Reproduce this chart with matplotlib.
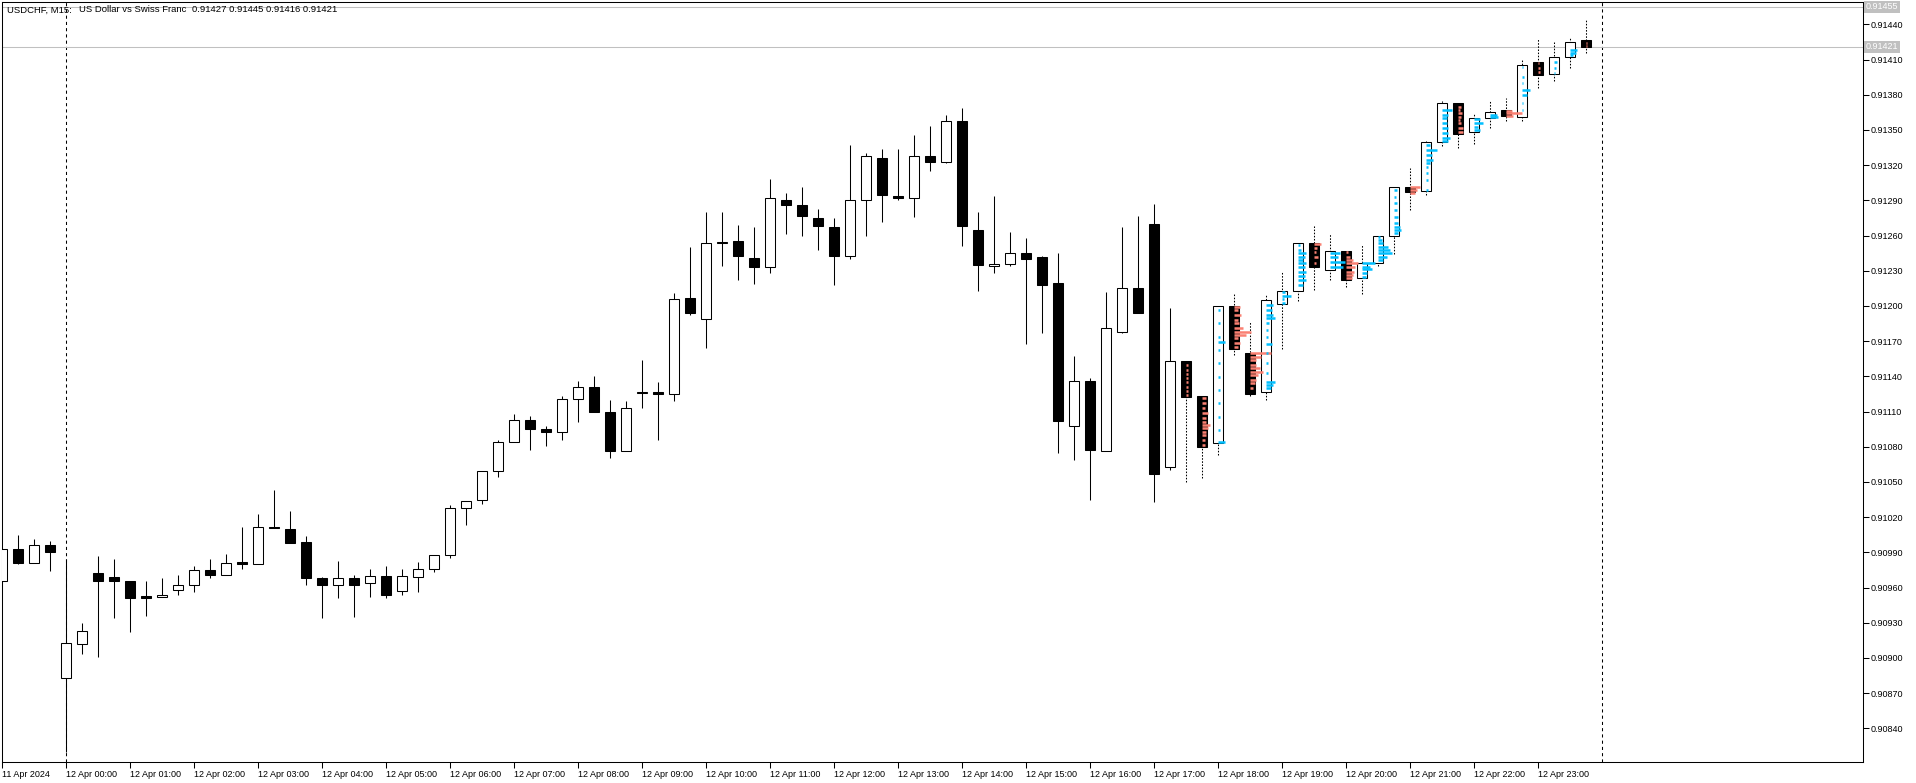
import numpy as np
import matplotlib.pyplot as plt

plt.rcParams['font.family'] = ['Liberation Sans', 'DejaVu Sans']

# M15 bars, index 0 = 12 Apr 00:00 (first visible bar is 11 Apr 23:00)
first_bar = -4
opens = [0.90966, 0.90993, 0.90981, 0.90996, 0.90883, 0.90912, 0.90972, 0.90969, 0.90966, 0.90953,
         0.90952, 0.90958, 0.90962, 0.90975, 0.90971, 0.90982, 0.90980, 0.91012, 0.91010, 0.90999,
         0.90968, 0.90962, 0.90968, 0.90964, 0.90970, 0.90957, 0.90969, 0.90976, 0.90988, 0.91028,
         0.91035, 0.91059, 0.91084, 0.91103, 0.91095, 0.91093, 0.91121, 0.91131, 0.91110, 0.91076,
         0.91126, 0.91127, 0.91125, 0.91207, 0.91189, 0.91254, 0.91255, 0.91241, 0.91233, 0.91290,
         0.91286, 0.91275, 0.91267, 0.91243, 0.91290, 0.91326, 0.91294, 0.91292, 0.91328, 0.91323,
         0.91358, 0.91265, 0.91234, 0.91236, 0.91245, 0.91242, 0.91220, 0.91098, 0.91136, 0.91076,
         0.91178, 0.91215, 0.91270, 0.91063, 0.91153, 0.91123, 0.91083, 0.91200, 0.91160, 0.91127,
         0.91202, 0.91213, 0.91254, 0.91231, 0.91247, 0.91224, 0.91237, 0.91260, 0.91301, 0.91298,
         0.91340, 0.91373, 0.91348, 0.91360, 0.91367, 0.91361, 0.91408, 0.91398, 0.91412, 0.91427]
highs = [0.90994, 0.91005, 0.91001, 0.91000, 0.90984, 0.90930, 0.90987, 0.90984, 0.90966, 0.90966,
         0.90968, 0.90971, 0.90978, 0.90984, 0.90989, 0.91012, 0.91023, 0.91043, 0.91025, 0.91004,
         0.90969, 0.90983, 0.90971, 0.90976, 0.90978, 0.90976, 0.90982, 0.90988, 0.91030, 0.91034,
         0.91059, 0.91086, 0.91108, 0.91106, 0.91098, 0.91123, 0.91136, 0.91140, 0.91120, 0.91119,
         0.91154, 0.91135, 0.91211, 0.91250, 0.91280, 0.91280, 0.91269, 0.91267, 0.91308, 0.91296,
         0.91301, 0.91283, 0.91275, 0.91337, 0.91330, 0.91334, 0.91334, 0.91346, 0.91353, 0.91363,
         0.91369, 0.91280, 0.91294, 0.91263, 0.91258, 0.91243, 0.91245, 0.91157, 0.91139, 0.91212,
         0.91267, 0.91277, 0.91287, 0.91198, 0.91153, 0.91123, 0.91200, 0.91211, 0.91187, 0.91209,
         0.91229, 0.91254, 0.91269, 0.91261, 0.91247, 0.91253, 0.91260, 0.91301, 0.91318, 0.91341,
         0.91375, 0.91373, 0.91364, 0.91375, 0.91377, 0.91410, 0.91428, 0.91425, 0.91428, 0.91445]
lows = [0.90964, 0.90980, 0.90981, 0.90974, 0.90820, 0.90903, 0.90901, 0.90934, 0.90922, 0.90936,
        0.90952, 0.90954, 0.90956, 0.90968, 0.90971, 0.90976, 0.90980, 0.91011, 0.90998, 0.90962,
        0.90934, 0.90951, 0.90935, 0.90952, 0.90951, 0.90954, 0.90956, 0.90973, 0.90985, 0.91013,
        0.91031, 0.91054, 0.91084, 0.91077, 0.91081, 0.91086, 0.91101, 0.91110, 0.91070, 0.91076,
        0.91113, 0.91086, 0.91119, 0.91192, 0.91164, 0.91234, 0.91222, 0.91219, 0.91228, 0.91261,
        0.91260, 0.91248, 0.91218, 0.91240, 0.91260, 0.91272, 0.91290, 0.91276, 0.91315, 0.91322,
        0.91251, 0.91213, 0.91228, 0.91234, 0.91168, 0.91177, 0.91075, 0.91069, 0.91035, 0.91076,
        0.91177, 0.91194, 0.91033, 0.91060, 0.91050, 0.91053, 0.91073, 0.91158, 0.91123, 0.91120,
        0.91163, 0.91204, 0.91214, 0.91222, 0.91216, 0.91210, 0.91234, 0.91244, 0.91282, 0.91295,
        0.91336, 0.91335, 0.91338, 0.91352, 0.91358, 0.91358, 0.91386, 0.91392, 0.91403, 0.91416]
closes = [0.90993, 0.90981, 0.90996, 0.90990, 0.90913, 0.90923, 0.90966, 0.90966, 0.90951, 0.90951,
          0.90954, 0.90962, 0.90975, 0.90971, 0.90981, 0.90980, 0.91012, 0.91011, 0.90998, 0.90968,
          0.90962, 0.90968, 0.90962, 0.90970, 0.90954, 0.90970, 0.90976, 0.90988, 0.91028, 0.91034,
          0.91059, 0.91084, 0.91103, 0.91095, 0.91093, 0.91121, 0.91131, 0.91110, 0.91076, 0.91113,
          0.91127, 0.91125, 0.91206, 0.91194, 0.91254, 0.91254, 0.91243, 0.91233, 0.91292, 0.91286,
          0.91277, 0.91268, 0.91243, 0.91290, 0.91328, 0.91295, 0.91292, 0.91328, 0.91323, 0.91358,
          0.91268, 0.91235, 0.91236, 0.91245, 0.91240, 0.91218, 0.91102, 0.91136, 0.91077, 0.91181,
          0.91215, 0.91194, 0.91057, 0.91153, 0.91122, 0.91080, 0.91200, 0.91163, 0.91125, 0.91205,
          0.91213, 0.91254, 0.91233, 0.91247, 0.91222, 0.91237, 0.91260, 0.91301, 0.91297, 0.91340,
          0.91373, 0.91347, 0.91360, 0.91365, 0.91362, 0.91405, 0.91397, 0.91412, 0.91425, 0.91421]

# tick volume profile drawn inside the last bars: bar index, price level, length (px)
prof_bar = ([70] * 8 + [71] * 12 + [72] * 12 + [73] * 11 + [74] * 10 + [75] * 14 + [76] * 4
            + [77] * 11 + [78] * 5 + [79] * 4 + [80] * 8 + [81] * 5 + [82] * 8 + [83] * 9
            + [84] * 3 + [85] * 9 + [86] * 8 + [87] * 8 + [88] * 4 + [89] * 2 + [90] * 3
            + [91] * 7 + [92] * 3 + [93] * 3 + [94] * 3 + [95] * 2)
prof_price = [91149.8, 91145.5, 91142.1, 91138.4, 91135.0, 91131.3, 91127.9, 91124.2,
              91121.3, 91117.1, 91112.8, 91108.6, 91104.3, 91101.5, 91098.6, 91096.3, 91092.9,
              91090.1, 91085.8, 91081.6,
              91196.6, 91185.3, 91173.9, 91169.6, 91162.5, 91151.2, 91139.8, 91128.4, 91117.1,
              91105.7, 91094.4, 91084.4,
              91199.5, 91196.6, 91192.4, 91188.1, 91185.3, 91181.0, 91178.2, 91175.3, 91172.5,
              91168.2, 91165.4,
              91159.7, 91156.9, 91154.0, 91149.8, 91146.9, 91144.1, 91141.2, 91137.0, 91134.1,
              91129.9,
              91200.9, 91196.6, 91192.4, 91189.5, 91185.3, 91179.6, 91173.9, 91167.7, 91159.7,
              91151.2, 91142.7, 91135.5, 91132.7, 91129.9,
              91212.3, 91208.8, 91205.7, 91202.9,
              91252.0, 91247.8, 91244.9, 91242.1, 91239.2, 91236.4, 91233.0, 91229.3, 91225.6,
              91222.2, 91217.9,
              91252.9, 91249.2, 91246.3, 91242.1, 91236.4,
              91244.9, 91241.5, 91237.8, 91233.6,
              91246.3, 91242.1, 91239.2, 91236.4, 91233.5, 91229.3, 91226.4, 91223.6,
              91236.4, 91233.5, 91231.3, 91227.9, 91225.0,
              91259.1, 91256.3, 91253.6, 91250.6, 91247.8, 91244.9, 91242.1, 91239.2,
              91298.9, 91293.2, 91287.5, 91281.8, 91276.2, 91270.5, 91267.6, 91264.8, 91261.9,
              91301.7, 91298.9, 91296.6,
              91337.2, 91333.0, 91328.7, 91324.5, 91321.6, 91318.8, 91313.1, 91307.4, 91298.9,
              91367.1, 91362.8, 91360.0, 91355.7, 91351.4, 91347.2, 91342.9, 91340.9,
              91369.9, 91367.1, 91364.2, 91361.4, 91358.5, 91355.7, 91351.4, 91348.6,
              91359.1, 91356.3, 91352.9, 91350.0,
              91362.8, 91360.8,
              91366.5, 91364.2, 91362.0,
              91404.0, 91395.5, 91389.8, 91384.1, 91379.9, 91372.8, 91367.1,
              91406.8, 91402.6, 91399.7,
              91408.3, 91402.6, 91398.3,
              91418.2, 91415.9, 91413.9,
              91423.9, 91421.6]
prof_len = [2, 2, 2, 2, 2, 2, 2, 2,
            4.3, 4.3, 2.7, 6, 4.3, 3.7, 7.7, 6, 4.3, 4.3, 2.7, 2.7,
            2, 2, 2, 6.7, 2, 2, 2, 2, 2, 2, 2, 6.7,
            5.7, 4, 7.3, 4, 5, 9, 17.3, 12.3, 4, 5.7, 4,
            21.3, 11.3, 6.3, 6.3, 9.7, 13, 8, 6.3, 4.7, 3,
            7, 6.3, 7, 8.7, 3, 1.5, 1.5, 6.3, 1.5, 1.5, 1.5, 8.7, 7, 5.3,
            2.7, 9.3, 2, 2.7,
            1.7, 3.3, 8.3, 6.7, 5, 8.3, 6.7, 7.7, 6.7, 8.3, 5,
            7.3, 3.3, 2.3, 4, 1.7,
            9.7, 8, 14.7, 13,
            2.3, 4, 7.3, 12.3, 9, 8, 7.3, 5.7,
            13, 8, 9.7, 4.7, 4,
            2, 3.7, 5.3, 10.3, 12, 13.7, 8.7, 5.3,
            2.7, 2, 2.7, 3.3, 4.3, 4.3, 6, 6.7, 4.3,
            10, 6.7, 5,
            4, 10.7, 5.7, 7.3, 4, 2.3, 2.3, 2.3, 2.3,
            9.7, 6.3, 4.7, 4.7, 6.3, 6.3, 8, 6.3,
            2.7, 2, 3.7, 2.7, 2, 2.7, 4.7, 5.3,
            6, 9.3, 4.3, 6,
            6.7, 8.3,
            5.7, 15.7, 7.3,
            1.3, 2, 1.3, 8, 5, 1.3, 1.3,
            1.3, 2, 2,
            2.7, 2, 1.3,
            7.3, 6, 3.3,
            1.3, 1.3]

x_tick_bars = list(range(-4, 96, 4))
x_tick_labels = ['11 Apr 2024'] + ['12 Apr %02d:00' % h for h in range(24)]
y_ticks = [0.90840, 0.90870, 0.90900, 0.90930, 0.90960, 0.90990, 0.91020, 0.91050, 0.91080,
           0.91110, 0.91140, 0.91170, 0.91200, 0.91230, 0.91260, 0.91290, 0.91320, 0.91350,
           0.91380, 0.91410, 0.91440]
day_separators = [0, 96]
price_lines = [0.91455, 0.91421]
title_parts = ['USDCHF, M15:', 'US Dollar vs Swiss Franc', '0.91427 0.91445 0.91416 0.91421']

opens = np.array(opens)
highs = np.array(highs)
lows = np.array(lows)
closes = np.array(closes)
x = np.arange(first_bar, first_bar + len(opens))

W, H = 1916, 783
fig = plt.figure(figsize=(W / 100, H / 100), dpi=100)
ax = fig.add_axes([2 / W, 21 / H, 1861 / W, 760 / H])
lw = 0.75
px_per_bar = 16.0

for d in day_separators:
    ax.axvline(d, color='black', lw=lw, ls=(0, (3, 3)), zorder=1)
for p in price_lines:
    ax.axhline(p, color='#c0c0c0', lw=lw, zorder=1)

# wicks
overlay = x >= 70
ax.vlines(x[~overlay], lows[~overlay], highs[~overlay], color='black', lw=lw, zorder=2)
ax.vlines(x[overlay], lows[overlay], highs[overlay], color='black', lw=lw,
          linestyles=(0, (1.5, 1.5)), zorder=2)

# bodies
bull = closes >= opens
bottoms = np.minimum(opens, closes)
heights = np.maximum(np.abs(closes - opens), 0.000004)
ax.bar(x, heights, bottom=bottoms, width=0.64,
       color=np.where(bull, 'white', 'black'), edgecolor='black', linewidth=lw, zorder=3)

# volume profile segments
pb = np.array(prof_bar)
pp = np.array(prof_price) / 1e5
pl = np.array(prof_len) / px_per_bar
bar_bull = dict(zip(x, bull))
pcol = ['#00bfff' if bar_bull[b] else '#fa8072' for b in pb]
ax.hlines(pp, pb + 0.02, pb + 0.02 + pl, colors=pcol, lw=1.8, zorder=4)

ax.set_xlim(-3.98, 112.34)
ax.set_ylim(0.908113, 0.914591)

ax.yaxis.tick_right()
ax.set_yticks(y_ticks)
ax.set_yticklabels(['%.5f' % v for v in y_ticks])
ax.set_xticks(x_tick_bars)
ax.set_xticklabels(x_tick_labels, ha='left')
ax.tick_params(axis='both', direction='out', length=4, width=lw, labelsize=6.5,
               colors='black', pad=1.5)
for s in ax.spines.values():
    s.set_linewidth(lw)
    s.set_color('black')

for p in price_lines:
    ax.text(1.0016, p, '%.5f' % p, transform=ax.get_yaxis_transform(), ha='left',
            va='center', fontsize=6.5, color='white', zorder=5,
            bbox=dict(facecolor='#c0c0c0', edgecolor='none', pad=1.2))

for tx, part in zip([7, 79, 192], title_parts):
    fig.text(tx / W, 1 - 10 / H, part, ha='left', va='center', fontsize=6.8)

fig.savefig('out.png', dpi=100, facecolor='white')
